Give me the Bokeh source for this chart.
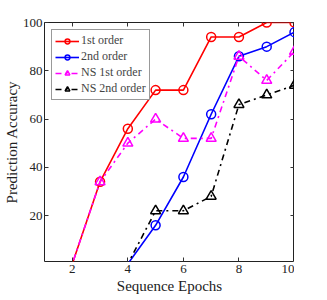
from bokeh.plotting import figure
from bokeh.models import LinearAxis, Range1d, Legend, LegendItem, FixedTicker, CustomJSTickFormatter
from bokeh.embed import file_html
from bokeh.resources import INLINE

epochs = [1, 2, 3, 4, 5, 6, 7, 8, 9, 10]
first_order = [0, 0, 34, 56, 72, 72, 94, 94, 100, 100]
second_order = [0, 0, 0, 0, 16, 36, 62, 86, 90, 96]
ns_first_order = [0, 0, 34, 50, 60, 52, 52, 86, 76, 88]
ns_second_order = [0, 0, 0, 0, 22, 22, 28, 66, 70, 74]
x_ticks = [2, 4, 6, 8, 10]
y_ticks = [20, 40, 60, 80, 100]

series = [
    ("1st order", first_order, "#ff0000", "solid", "circle"),
    ("2nd order", second_order, "#0000ff", "solid", "circle"),
    ("NS 1st order", ns_first_order, "#ff00ff", "dashdot", "triangle"),
    ("NS 2nd order", ns_second_order, "#000000", "dashdot", "triangle"),
]

FONT = "Liberation Serif"

p = figure(frame_width=250, frame_height=239, output_backend="svg", toolbar_location=None,
           x_axis_location=None, y_axis_location=None,
           x_range=Range1d(1, 10), y_range=Range1d(1, 100),
           min_border_left=40, min_border_right=0, min_border_top=22, min_border_bottom=0)
p.xgrid.visible = False
p.ygrid.visible = False
p.outline_line_color = "#222222"
p.outline_line_width = 1
p.background_fill_color = "white"

items = []
for name, ys, color, dash, marker in series:
    r1 = p.line(epochs, ys, line_color=color, line_width=1.6, line_dash=dash)
    xs = [x for x, y in zip(epochs, ys) if y > 0]
    yv = [y for y in ys if y > 0]
    r2 = p.scatter(xs, yv, marker=marker, size=10 if marker == "triangle" else 9,
                   line_color=color, fill_color=None, line_width=1.5)
    items.append(LegendItem(label=name, renderers=[r1, r2]))

bottom = LinearAxis(ticker=FixedTicker(ticks=x_ticks), axis_label="Sequence Epochs")
left = LinearAxis(ticker=FixedTicker(ticks=y_ticks), axis_label="Prediction Accuracy")
blank = CustomJSTickFormatter(code="return ''")
top = LinearAxis(ticker=FixedTicker(ticks=x_ticks), formatter=blank)
right = LinearAxis(ticker=FixedTicker(ticks=y_ticks), formatter=blank)
p.add_layout(bottom, "below")
p.add_layout(left, "left")
p.add_layout(top, "above")
p.add_layout(right, "right")

for ax in [bottom, left, top, right]:
    ax.major_tick_in = 4
    ax.major_tick_out = 0
    ax.minor_tick_line_color = None
    ax.axis_line_color = None
    ax.major_tick_line_color = "#333333"
    ax.major_label_text_font = FONT
    ax.major_label_text_font_size = "13px"
    ax.major_label_text_color = "#222222"
    ax.axis_label_text_font = FONT
    ax.axis_label_text_font_size = "15px"
    ax.axis_label_text_font_style = "normal"
    ax.axis_label_text_color = "#222222"
    ax.major_label_standoff = 3
    ax.axis_label_standoff = 2
left.major_label_standoff = 2
left.axis_label_standoff = 0
for ax in [top, right]:
    ax.major_label_standoff = 0
    ax.axis_label_standoff = 0

legend = Legend(items=items, location="top_left")
legend.label_text_font = FONT
legend.label_text_font_size = "12px"
legend.label_height = 12
legend.glyph_height = 12
legend.glyph_width = 24
legend.spacing = 1
legend.padding = 3
legend.margin = 7
legend.border_line_color = "#333333"
legend.border_line_width = 1.5
legend.label_standoff = 2
p.add_layout(legend)

open("out.html", "w").write(file_html(p, INLINE))
